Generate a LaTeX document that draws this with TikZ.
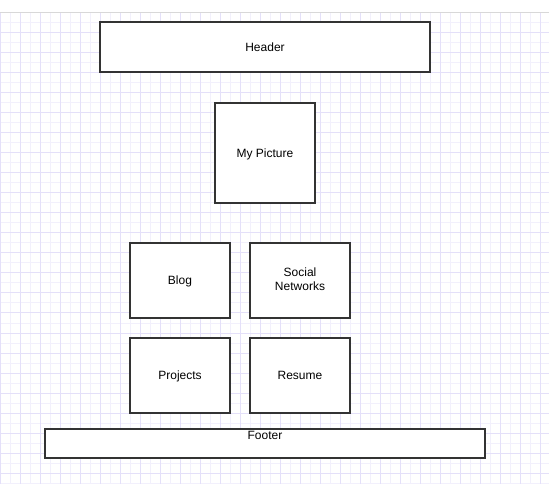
\documentclass[tikz,border=0pt]{standalone}
\usepackage{fontspec}
\setmainfont{Liberation Sans}
\usetikzlibrary{positioning}
\definecolor{boxline}{HTML}{333333}
\definecolor{gridminor}{HTML}{F2F0FC}
\definecolor{gridmajor}{HTML}{E4E0F9}
\definecolor{topline}{HTML}{D8D8D8}
\newcommand\boxstrut{\rule[-1.9pt]{0pt}{10.05pt}}

\begin{document}
\begin{tikzpicture}[x=0.75pt,y=-0.75pt,node distance=15pt,
  minor line/.style={draw=gridminor,line width=0.75pt},
  major line/.style={draw=gridmajor,line width=0.75pt},
  box/.style={rectangle,draw=boxline,line width=1.5pt,fill=white,inner sep=0pt,outer sep=0pt,
    align=center,font=\fontsize{9}{10.5}\selectfont,
    execute at begin node=\boxstrut,execute at end node=\boxstrut},
  page box/.style={box,minimum width=75pt,minimum height=56.25pt}]

  \useasboundingbox (0,0) rectangle (549,484);
  \fill[white] (0,0) rectangle (549,484);
  % background grid
  \foreach \x in {0,10,...,540} \draw[minor line] (\x,13) -- (\x,484);
  \foreach \y in {13,23,...,483} \draw[minor line] (0,\y) -- (549,\y);
  \foreach \x in {0,20,...,540} \draw[major line] (\x,13) -- (\x,484);
  \foreach \y in {13,33,...,473} \draw[major line] (0,\y) -- (549,\y);
  \draw[topline,line width=0.75pt] (0,12.5) -- (549,12.5);

  \node[box,minimum width=247.5pt,minimum height=37.5pt] (header) at (265,47.5) {Header};
  \node[box,minimum width=75pt,minimum height=75pt] (picture) at (265,153) {My Picture};
  \node[page box] (blog) at (180,280.5) {Blog};
  \node[page box] (social) [right=of blog] {Social\\Networks};
  \node[page box] (projects) [below=of blog] {Projects};
  \node[page box] (resume) [right=of projects] {Resume};
  \node[box,minimum width=330pt,minimum height=21.75pt,
    label={[anchor=north,inner sep=1.5pt,font=\fontsize{9}{10.5}\selectfont]north:Footer}] (footer) at (265,443) {};
\end{tikzpicture}
\end{document}
